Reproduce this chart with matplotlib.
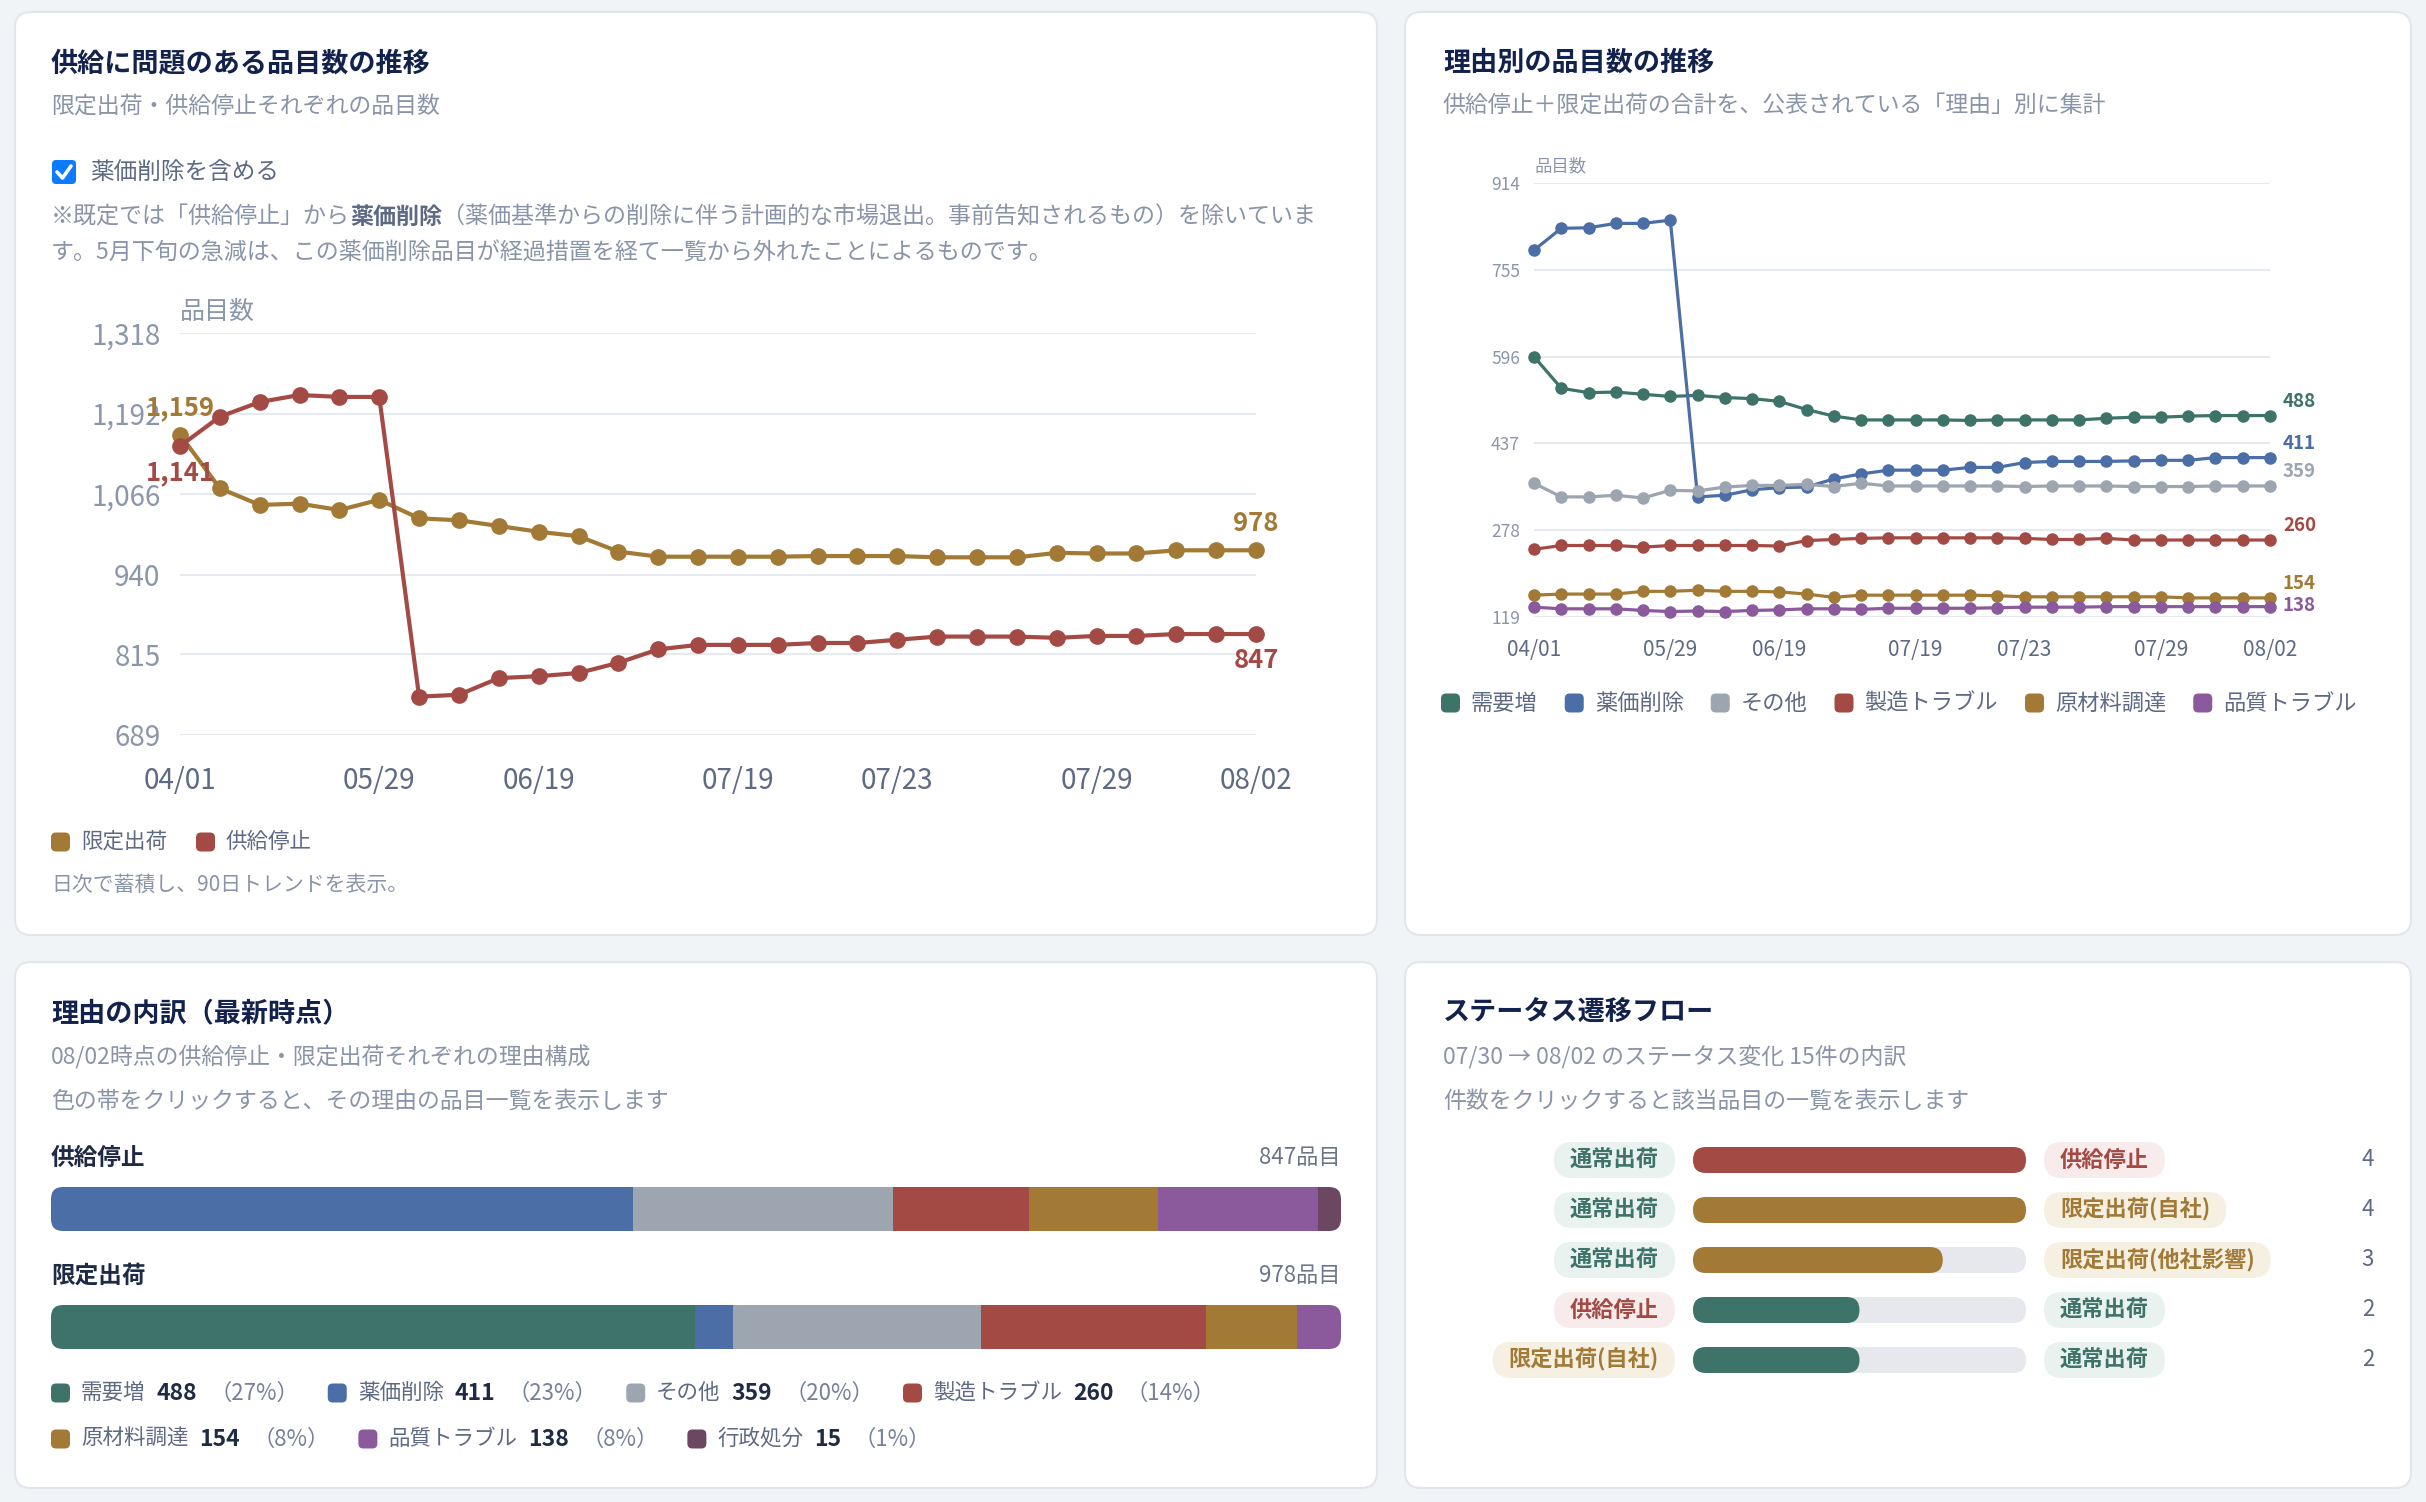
import matplotlib
matplotlib.use('Agg')
import matplotlib.pyplot as plt
from matplotlib.patches import FancyBboxPatch
from matplotlib.lines import Line2D
import numpy as np

plt.rcParams['font.family'] = ['Noto Sans CJK JP', 'DejaVu Sans']

W, H, DPI = 2426, 1502, 100

# ---- data ----
DATES = ['04/01', '04/15', '04/24', '05/08', '05/15', '05/29', '06/02', '06/09',
         '06/12', '06/19', '06/26', '07/03', '07/10', '07/15', '07/19', '07/20',
         '07/21', '07/22', '07/23', '07/24', '07/25', '07/26', '07/28', '07/29',
         '07/30', '07/31', '08/01', '08/02']
TICK_IDX = [0, 5, 9, 14, 18, 23, 27]

LIMITED = [1159, 1075, 1049, 1051, 1041, 1057, 1028, 1025, 1016, 1007, 1000, 976, 968, 968,
           968, 968, 969, 969, 969, 967, 967, 967, 974, 973, 973, 978, 978, 978]
SUSPENDED = [1141, 1187, 1210, 1221, 1218, 1218, 749, 752, 778, 781, 786, 802, 823, 830,
             830, 830, 833, 833, 838, 843, 843, 843, 841, 844, 844, 847, 847, 847]
TL_YTICKS = [689, 815, 940, 1066, 1192, 1318]

REASONS = ['需要増', '薬価削除', 'その他', '製造トラブル', '原材料調達', '品質トラブル', '行政処分']
R_DEMAND = [596, 538, 530, 531, 527, 523, 525, 521, 519, 514, 499, 487, 480, 480,
            480, 480, 479, 480, 480, 480, 480, 483, 485, 485, 487, 488, 488, 488]
R_DELIST = [791, 831, 832, 840, 840, 846, 339, 342, 352, 356, 357, 372, 381, 388,
            388, 388, 393, 393, 402, 404, 404, 404, 405, 406, 406, 411, 411, 411]
R_OTHER = [364, 339, 339, 342, 337, 351, 350, 357, 360, 360, 362, 358, 364, 359,
           359, 359, 359, 359, 358, 359, 359, 359, 358, 358, 358, 359, 359, 359]
R_MANUF = [243, 250, 250, 250, 247, 250, 250, 250, 250, 249, 259, 261, 263, 264,
           264, 264, 264, 264, 263, 261, 261, 263, 260, 260, 260, 260, 260, 260]
R_MATER = [159, 161, 161, 161, 166, 166, 168, 166, 166, 165, 161, 155, 159, 159,
           159, 159, 159, 158, 156, 156, 156, 156, 156, 156, 154, 154, 154, 154]
R_QUAL = [137, 134, 134, 134, 131, 129, 130, 129, 131, 132, 134, 134, 133, 135,
          135, 135, 135, 136, 137, 137, 137, 138, 138, 138, 138, 138, 138, 138]
TR_YMIN, TR_YMAX = 119, 914

# latest breakdown, same order as REASONS
BREAK_SUSPENDED = [0, 382, 171, 89, 85, 105, 15]
BREAK_LIMITED = [488, 29, 188, 171, 69, 33, 0]

FLOW_FROM = ['通常出荷', '通常出荷', '通常出荷', '供給停止', '限定出荷(自社)']
FLOW_TO = ['供給停止', '限定出荷(自社)', '限定出荷(他社影響)', '通常出荷', '通常出荷']
FLOW_COUNT = [4, 4, 3, 2, 2]

# ---- colours ----
GOLD = '#a27a36'
RED = '#a34a45'
BLUE = '#4a6ea5'
GREEN = '#3d7368'
GRAY = '#9ca5b0'
PURPLE = '#8b5a9c'
PLUM = '#6b4762'
REASON_COLORS = [GREEN, BLUE, GRAY, RED, GOLD, PURPLE, PLUM]
NAVY = '#13214d'
SUB = '#8a94a8'
SLATE = '#5e6a84'
DARK = '#1f2a44'
STATUS_STYLE = {'通常出荷': (GREEN, '#e9f2ee'), '供給停止': (RED, '#f8ebeb'),
                '限定出荷': (GOLD, '#f6f0e3')}


def status_style(name):
    for k, v in STATUS_STYLE.items():
        if name.startswith(k):
            return v
    return SLATE, '#eeeeee'


fig = plt.figure(figsize=(W / DPI, H / DPI), dpi=DPI, facecolor='#f1f4f7')
renderer = fig.canvas.get_renderer()


def rect(x0, y0, x1, y1):
    return [x0 / W, 1 - y1 / H, (x1 - x0) / W, (y1 - y0) / H]


def rbox(x0, y0, x1, y1, r, fc, ec='none', lw=0, z=1):
    p = FancyBboxPatch((x0 / DPI, (H - y1) / DPI), (x1 - x0) / DPI, (y1 - y0) / DPI,
                       boxstyle=f'round,pad=0,rounding_size={r / DPI}',
                       transform=fig.dpi_scale_trans, fc=fc, ec=ec, lw=lw, zorder=z)
    fig.add_artist(p)
    return p


def text(x, y, s, size, color, weight='normal', ha='left', va='center', z=3):
    return fig.text(x / W, 1 - y / H, s, fontsize=size, color=color, fontweight=weight,
                    ha=ha, va=va, zorder=z)


def wpx(t):
    return t.get_window_extent(renderer).width


def measure(s, size, weight='normal'):
    t = text(0, 0, s, size, 'k', weight)
    w = wpx(t)
    t.remove()
    return w


def slot(s, size, weight):
    # digits get a fixed (tabular) slot, like the original
    if s.isdigit():
        return max(measure(s, size, weight), measure('0' * len(s), size, weight))
    return measure(s, size, weight)


def runs(x, y, parts):
    # parts: (string, size, colour, weight, gap before)
    for s, size, color, weight, gap in parts:
        x += gap
        text(x, y, s, size, color, weight)
        x += slot(s, size, weight)
    return x


def legend_row(x, y, items, size, color, msize=19, gap=11, sep=29):
    for label, c in items:
        rbox(x, y - msize / 2, x + msize, y + msize / 2, 5, c, z=2)
        t = text(x + msize + gap, y, label, size, color)
        x = x + msize + gap + wpx(t) + sep


# panels
for p in [(15, 12, 1377, 935), (1405, 12, 2411, 935), (15, 962, 1377, 1488), (1405, 962, 2411, 1488)]:
    rbox(*p, 16, 'white', ec='#e2e6ec', lw=1.5, z=-1)

# ================= top left =================
text(51, 63, '供給に問題のある品目数の推移', 19.5, NAVY, 'bold')
text(51, 106, '限定出荷・供給停止それぞれの品目数', 16.5, SUB)
rbox(52, 160, 76, 184, 4, '#0b7bff', z=2)
fig.add_artist(Line2D([57 / W, 62.5 / W, 71 / W], [1 - 172 / H, 1 - 178 / H, 1 - 166 / H],
                      transform=fig.transFigure, color='white', lw=2.6, zorder=4,
                      solid_capstyle='round', solid_joinstyle='round'))
text(90, 172, '薬価削除を含める', 17, SLATE)
runs(51, 217, [('※既定では「供給停止」から', 16.6, SUB, 'normal', 0),
               ('薬価削除', 16.6, SLATE, 'bold', 0),
               ('（薬価基準からの削除に伴う計画的な市場退出。事前告知されるもの）を除いていま', 16.6, SUB, 'normal', 0)])
text(51, 252, 'す。5月下旬の急減は、この薬価削除品目が経過措置を経て一覧から外れたことによるものです。', 16.6, SUB)
text(180, 312, '品目数', 18, '#8b95ab')

x = np.arange(len(DATES))
ax1 = fig.add_axes(rect(180, 333, 1256, 735))
ax1.set_facecolor('none')
ax1.plot(x, LIMITED, color=GOLD, lw=3, marker='o', ms=11, clip_on=False, zorder=3)
ax1.plot(x, SUSPENDED, color=RED, lw=3, marker='o', ms=11, clip_on=False, zorder=4)
ax1.set_xlim(0, len(DATES) - 1)
ax1.set_ylim(TL_YTICKS[0], TL_YTICKS[-1])
ax1.set_yticks(TL_YTICKS)
ax1.set_yticklabels([f'{v:,}' for v in TL_YTICKS])
ax1.set_xticks(TICK_IDX)
ax1.set_xticklabels([DATES[i] for i in TICK_IDX])
ax1.grid(axis='y', color='#e6e9ef', lw=1.5)
ax1.set_axisbelow(True)
for s in ax1.spines.values():
    s.set_visible(False)
ax1.tick_params(axis='y', length=0, pad=14, labelsize=20, labelcolor='#8b95ab')
ax1.tick_params(axis='x', length=0, pad=22, labelsize=20, labelcolor=SLATE)
for series, c, dy in [(LIMITED, GOLD, 19), (SUSPENDED, RED, -19)]:
    for i in (0, len(series) - 1):
        ax1.annotate(f'{series[i]:,}', (i, series[i]), xytext=(0, dy), textcoords='offset points',
                     ha='center', va='center', color=c, fontsize=18.5, fontweight='bold',
                     annotation_clip=False, zorder=6)

legend_row(51, 842, [('限定出荷', GOLD), ('供給停止', RED)], 15.5, SLATE)
text(51, 885, '日次で蓄積し、90日トレンドを表示。', 15, SUB)

# ================= top right =================
text(1443, 63, '理由別の品目数の推移', 19.5, NAVY, 'bold')
text(1443, 106, '供給停止＋限定出荷の合計を、公表されている「理由」別に集計', 16.5, SUB)
text(1534, 166, '品目数', 12.5, '#8b95ab')

ax2 = fig.add_axes(rect(1534, 183, 2270, 617))
ax2.set_facecolor('none')
reason_series = [R_DEMAND, R_DELIST, R_OTHER, R_MANUF, R_MATER, R_QUAL]
for ser, c in zip(reason_series, REASON_COLORS):
    ax2.plot(x, ser, color=c, lw=2.3, marker='o', ms=8, clip_on=False, zorder=3)
ax2.set_xlim(0, len(DATES) - 1)
ax2.set_ylim(TR_YMIN, TR_YMAX)
tr_ticks = np.linspace(TR_YMIN, TR_YMAX, 6)
ax2.set_yticks(tr_ticks)
ax2.set_yticklabels([f'{v:.0f}' for v in tr_ticks])
ax2.set_xticks(TICK_IDX)
ax2.set_xticklabels([DATES[i] for i in TICK_IDX])
ax2.grid(axis='y', color='#e6e9ef', lw=1.5)
ax2.set_axisbelow(True)
for s in ax2.spines.values():
    s.set_visible(False)
ax2.tick_params(axis='y', length=0, pad=10, labelsize=12.5, labelcolor='#8b95ab')
ax2.tick_params(axis='x', length=0, pad=16, labelsize=15, labelcolor=SLATE)

# end labels, pushed apart when they collide
last = len(DATES) - 1
order = sorted(range(len(reason_series)), key=lambda k: -reason_series[k][-1])
prev_y = None
for k in order:
    v = reason_series[k][-1]
    py = ax2.transData.transform((last, v))[1]
    ly = py + 14.5
    if prev_y is not None and ly > prev_y - 22:
        ly = prev_y - 22
    prev_y = ly
    ax2.annotate(str(v), (last, v), xytext=(13 * 0.72, (ly - py) * 0.72), textcoords='offset points',
                 ha='left', va='center', color=REASON_COLORS[k], fontsize=13.5, fontweight='bold',
                 annotation_clip=False)

legend_row(1441, 703, list(zip(REASONS[:6], REASON_COLORS[:6])), 16, SLATE, sep=27)

# ================= bottom left =================
text(51, 1013, '理由の内訳（最新時点）', 19.5, NAVY, 'bold')
text(51, 1057, '08/02時点の供給停止・限定出荷それぞれの理由構成', 16.5, SUB)
text(51, 1101, '色の帯をクリックすると、その理由の品目一覧を表示します', 16.5, SUB)

for name, counts, hy, by in [('供給停止', BREAK_SUSPENDED, 1158, 1187),
                             ('限定出荷', BREAK_LIMITED, 1276, 1305)]:
    total = sum(counts)
    text(51, hy, name, 17, DARK, 'bold')
    text(1341, hy, f'{total}品目', 16, '#6b7488', ha='right')
    bw, bh = 1341 - 51, 44
    axb = fig.add_axes(rect(51, by, 1341, by + bh))
    axb.set_xlim(0, total)
    axb.set_ylim(0, 1)
    axb.axis('off')
    clip = FancyBboxPatch((0, 0), 1, 1, boxstyle=f'round,pad=0,rounding_size={12 / bw}',
                          mutation_aspect=bw / bh, transform=axb.transAxes, fc='none', ec='none')
    axb.add_patch(clip)
    lefts = np.concatenate([[0], np.cumsum(counts)[:-1]])
    bars = axb.barh(0.5, counts, left=lefts, height=1, color=REASON_COLORS, lw=0)
    for b in bars:
        b.set_clip_path(clip)

all_totals = [a + b for a, b in zip(BREAK_SUSPENDED, BREAK_LIMITED)]
grand = sum(all_totals)
lx, ly = 51, 1393
for name, v, c in zip(REASONS, all_totals, REASON_COLORS):
    pct = f'（{round(v / grand * 100)}%）'
    parts = [(name, 15.5, SLATE, 'normal', 0), (str(v), 16.5, DARK, 'bold', 11),
             (pct, 16, '#75809a', 'normal', 12)]
    wtot = 19 + 11 + sum(slot(s, sz, wt) + g for s, sz, col, wt, g in parts)
    if lx + wtot > 1341:
        lx, ly = 51, ly + 46
    rbox(lx, ly - 9.5, lx + 19, ly + 9.5, 5, c, z=2)
    runs(lx + 30, ly, parts)
    lx += wtot + 29

# ================= bottom right =================
text(1443, 1013, 'ステータス遷移フロー', 19.5, NAVY, 'bold')
text(1443, 1057, f'{DATES[24]} → {DATES[-1]} のステータス変化 {sum(FLOW_COUNT)}件の内訳', 16.5, SUB)
text(1443, 1101, '件数をクリックすると該当品目の一覧を表示します', 16.5, SUB)

n = len(FLOW_COUNT)
cmax = max(FLOW_COUNT)
ax4 = fig.add_axes(rect(1693, 1135, 2026, 1135 + 50 * n))
ax4.set_xlim(0, cmax)
ax4.set_ylim(-0.5, n - 0.5)
ax4.axis('off')
px_x = (2026 - 1693) / cmax
px_y = 50.0
half = 13 / px_y
r = 12.9 / px_x
for i, (src, dst, c) in enumerate(zip(FLOW_FROM, FLOW_TO, FLOW_COUNT)):
    yy = n - 1 - i
    ax4.add_patch(FancyBboxPatch((0, yy - half), cmax, 2 * half,
                                 boxstyle=f'round,pad=0,rounding_size={r}',
                                 mutation_aspect=px_x / px_y, fc='#e7e8ed', ec='none'))
    ax4.add_patch(FancyBboxPatch((0, yy - half), c, 2 * half,
                                 boxstyle=f'round,pad=0,rounding_size={r}',
                                 mutation_aspect=px_x / px_y, fc=status_style(dst)[0], ec='none'))
    y = 1160 + 50 * i
    tc, bg = status_style(src)
    t = text(1659, y, src, 16, tc, 'bold', ha='right')
    w = wpx(t)
    rbox(1659 - w - 16, y - 18, 1675, y + 18, 18, bg, z=1)
    tc, bg = status_style(dst)
    t = text(2060, y, dst, 16, tc, 'bold')
    w = wpx(t)
    rbox(2044, y - 18, 2060 + w + 16, y + 18, 18, bg, z=1)
    text(2374, y, str(c), 16, SLATE, ha='right')

fig.savefig('out.png', dpi=DPI, facecolor=fig.get_facecolor())
